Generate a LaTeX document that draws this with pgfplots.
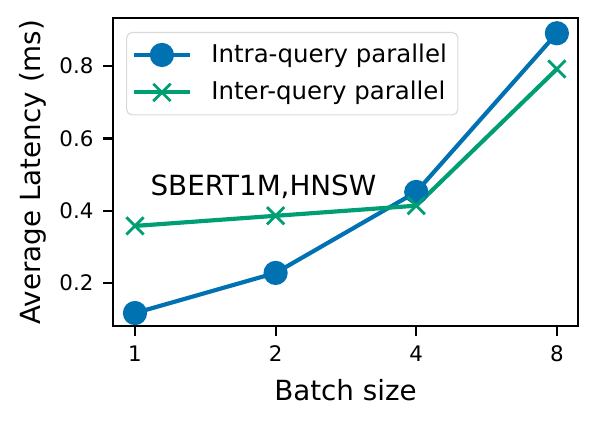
\documentclass[border=0pt]{standalone}
\usepackage{fontspec}
\setmainfont{DejaVu Sans}
\usepackage{pgfplots}
\pgfplotsset{compat=1.18}
\usetikzlibrary{calc}
\definecolor{cblue}{HTML}{0072B2}
\definecolor{cgreen}{HTML}{009E73}
\begin{document}
\begin{tikzpicture}
\path[use as bounding box] (-40.7pt,-37.1pt) rectangle (174.6pt,117.4pt);
\begin{axis}[
  at={(0,0)}, anchor=south west,
  scale only axis, width=167.4pt, height=110.9pt,
  xmin=-0.156, xmax=3.15,
  ymin=0.081, ymax=0.933,
  xtick={0,1,2,3}, xticklabels={1,2,4,8},
  ytick={0.2,0.4,0.6,0.8},
  yticklabel style={/pgf/number format/fixed,/pgf/number format/precision=1,/pgf/number format/fixed zerofill},
  /pgf/number format/assume math mode=true,
  tick label style={font=\fontsize{7.7}{9}\selectfont},
  tick align=outside, major tick length=3.5pt,
  tick style={black, line width=0.8pt},
  axis line style={line width=0.8pt},
  xtick pos=bottom, ytick pos=left,
  xlabel={Batch size}, ylabel={Average Latency (ms)},
  label style={font=\fontsize{10}{12}\selectfont},
  x label style={at={(axis description cs:0.5,0)}, anchor=center, yshift=-23pt},
  y label style={at={($(axis description cs:0,0.5)+(-29pt,0pt)$)}, anchor=center},
  legend style={at={(0.028,0.955)}, anchor=north west, draw=black!15, rounded corners=2pt,
    fill=white, font=\fontsize{8.8}{10.5}\selectfont, inner sep=2pt, row sep=1.3pt,
    cells={anchor=west}},
  legend image code/.code={\path (0cm,0) (0.88cm,0);\draw[mark repeat=2,mark phase=2] plot coordinates {(0cm,0cm) (0.35cm,0cm) (0.7cm,0cm)};},
]
\addplot[cblue, line width=1.5pt, mark=*, mark size=3.6pt, mark options={solid}] coordinates {
  (0,0.117) (1,0.228) (2,0.452) (3,0.891)};
\addlegendentry{Intra-query parallel}
\addplot[cgreen, line width=1.5pt, mark=x, mark size=4.4pt, mark options={solid, line width=1pt}] coordinates {
  (0,0.358) (1,0.386) (2,0.414) (3,0.792)};
\addlegendentry{Inter-query parallel}
\node[anchor=base west, font=\fontsize{10}{12}\selectfont, inner sep=0pt] at (axis cs:0.107,0.441) {SBERT1M,HNSW};
\end{axis}
\end{tikzpicture}
\end{document}
